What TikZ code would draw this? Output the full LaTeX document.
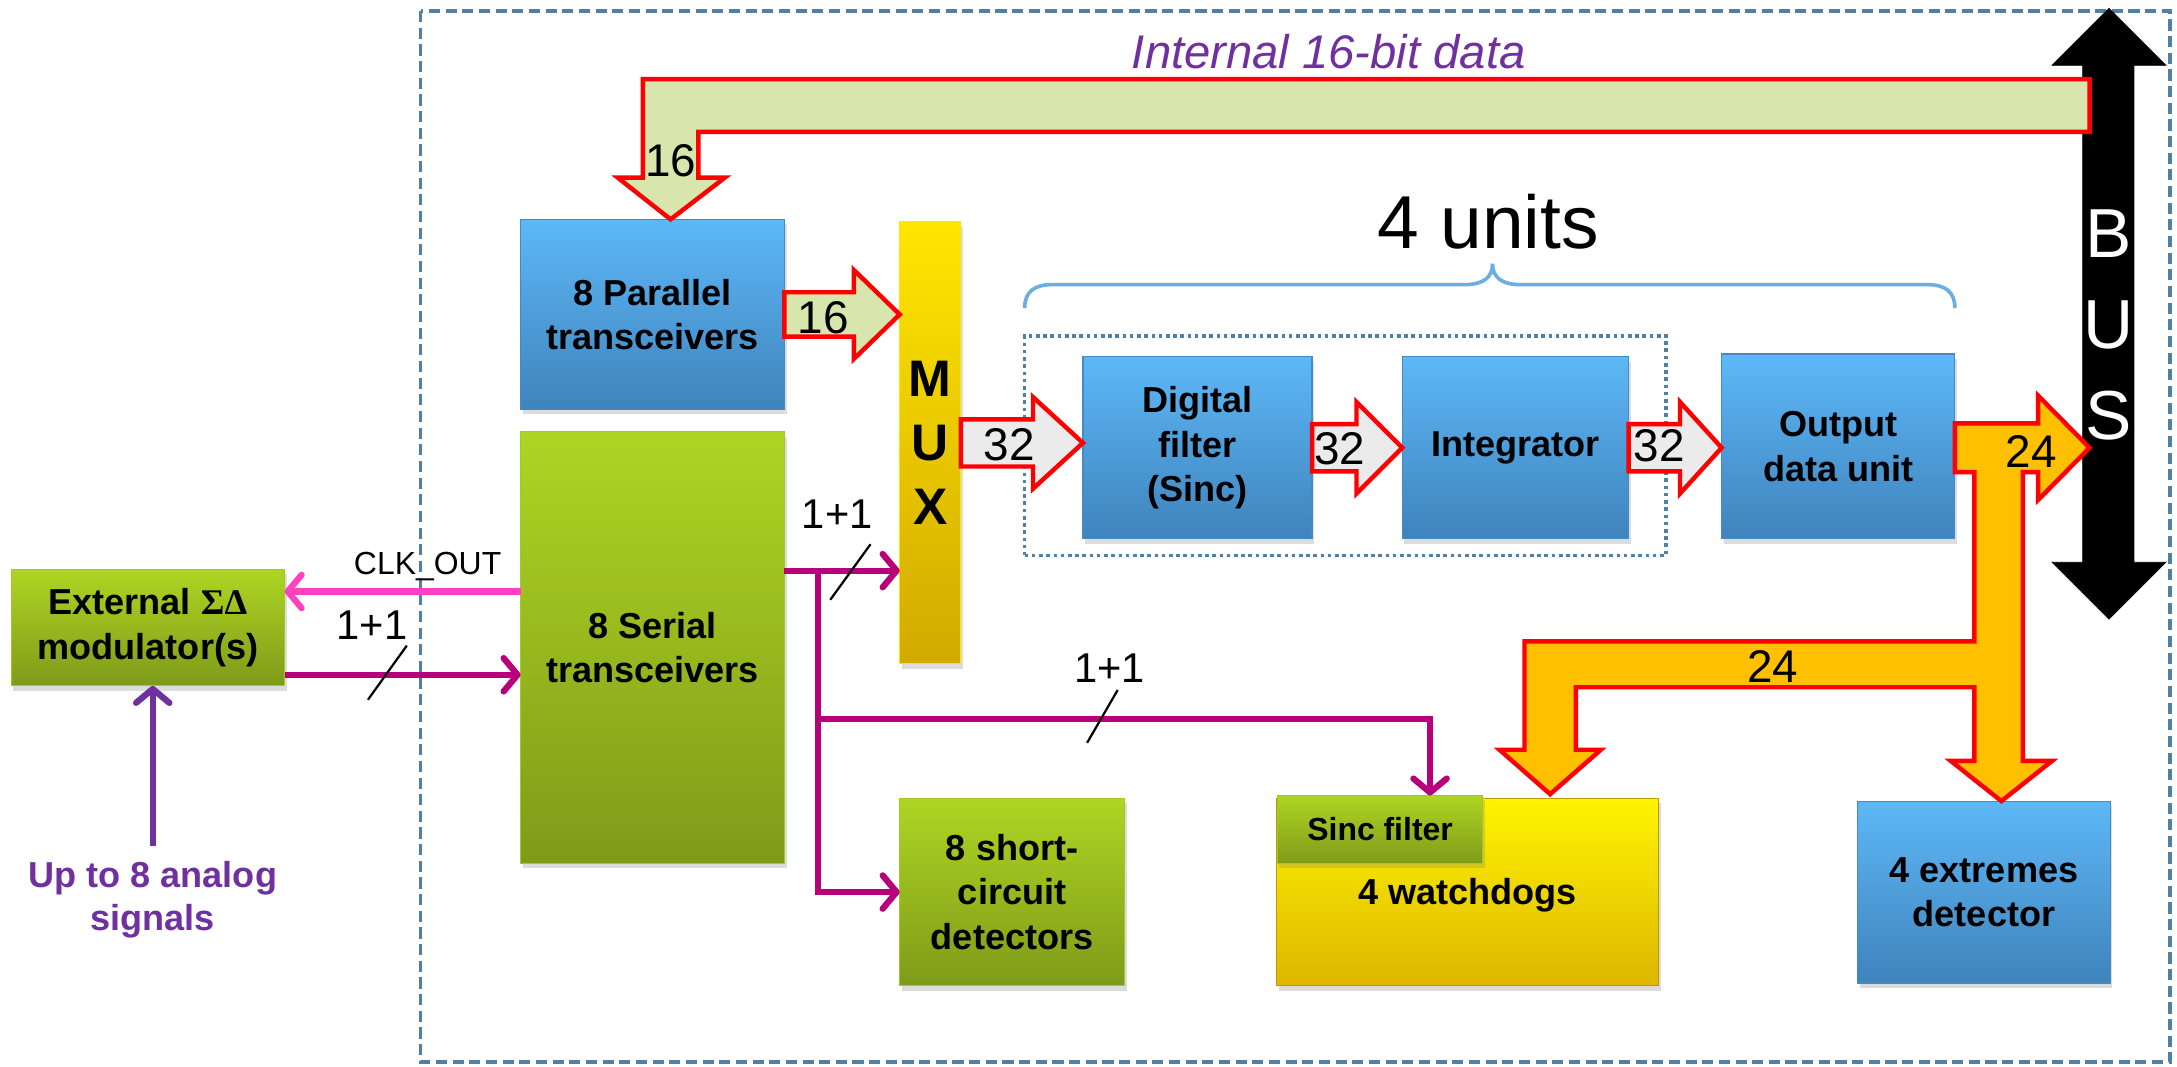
\documentclass[tikz,border=0pt]{standalone}
\usepackage{fontspec}
\setmainfont{Liberation Sans}
\newfontfamily\greekserif{Liberation Serif}
\usetikzlibrary{arrows.meta,shadows,calc}

\definecolor{framecol}{HTML}{4F81A8}
\definecolor{blueT}{HTML}{5DB8F7}
\definecolor{blueB}{HTML}{3F83BC}
\definecolor{greenT}{HTML}{AED523}
\definecolor{greenB}{HTML}{7E9B19}
\definecolor{yellowT}{HTML}{FFF400}
\definecolor{yellowB}{HTML}{DDB600}
\definecolor{muxT}{HTML}{FFE600}
\definecolor{muxB}{HTML}{D2AA00}
\definecolor{sigcol}{HTML}{B8007A}
\definecolor{clkcol}{HTML}{FF40C0}
\definecolor{analogcol}{HTML}{7030A0}
\definecolor{busgreen}{HTML}{D8E6AE}
\definecolor{pipegray}{HTML}{EBEBEB}
\definecolor{pipeorange}{HTML}{FFC000}
\definecolor{bracecol}{HTML}{6AAEE2}

\tikzset{
  every node/.style={inner sep=0pt, outer sep=0pt, align=center},
  shadowed/.style={drop shadow={opacity=0.28, shadow xshift=1.5pt, shadow yshift=-3.5pt}},
  bluebox/.style={shadowed, top color=blueT, bottom color=blueB, draw=blueB!85!blueT, line width=0.8pt},
  greenbox/.style={shadowed, top color=greenT, bottom color=greenB, draw=greenT!80!greenB, line width=0.8pt},
  yellowbox/.style={shadowed, top color=yellowT, bottom color=yellowB, draw=yellowB!85!black, line width=0.8pt},
  muxbox/.style={shadowed, top color=muxT, bottom color=muxB, draw=muxT, line width=1pt},
  lbl/.style={font=\fontsize{26}{32}\selectfont\bfseries},
  num/.style={font=\fontsize{33}{33}\selectfont},
  bitlbl/.style={font=\fontsize{30}{30}\selectfont},
  fatedge/.style={draw=red, line width=3.2pt, line join=miter},
  sig/.style={draw=sigcol, line width=4.5pt, line join=miter},
  barb/.style={-{Straight Barb[length=10pt,width=24pt,round]}},
  slashmark/.style={draw=black, line width=1.6pt},
  framebox/.style={draw=framecol, line width=2.6pt, dash pattern=on 8pt off 4pt},
  unitbox/.style={draw=framecol, line width=2.6pt, dash pattern=on 2.6pt off 2.6pt},
}

% fat block arrow pointing right, from #1 to the x of #2
\newcommand\blockarrow[6]{%
  \draw[fatedge, fill=#6] let \p1=#1, \p2=#2 in
    (\x1,\y1+#3pt) -- (\x2-#5pt,\y1+#3pt) -- (\x2-#5pt,\y1+#4pt) -- (\x2,\y1)
    -- (\x2-#5pt,\y1-#4pt) -- (\x2-#5pt,\y1-#3pt) -- (\x1,\y1-#3pt) -- cycle;}

\begin{document}
\begin{tikzpicture}[x=1pt,y=-1pt]
\useasboundingbox (0,0) rectangle (1568,768);

% chip boundary
\draw[framebox] (303,8) rectangle (1563,765);

% blocks
\node[greenbox, lbl, minimum width=197pt, minimum height=84pt] (ext) at (106.5,452)
  {External {\greekserif ΣΔ}\\modulator(s)};
\node[bluebox, lbl, minimum width=190pt, minimum height=137pt] (par) at (470,226.5)
  {8 Parallel\\transceivers};
\node[greenbox, lbl, minimum width=190pt, minimum height=311pt] (ser) at (470,466.5)
  {8 Serial\\transceivers};
\node[muxbox, font=\fontsize{37}{46}\selectfont\bfseries, minimum width=44pt, minimum height=318pt] (mux) at (670,319)
  {M\\U\\X};
\node[unitbox, minimum width=462pt, minimum height=158pt] (units) at (969,321) {};
\node[bluebox, lbl, minimum width=165pt, minimum height=131pt] (df) at (862.5,322.5)
  {Digital\\filter\\(Sinc)};
\node[bluebox, lbl, minimum width=163pt, minimum height=131pt] (int) at (1091.5,322.5)
  {Integrator};
\node[bluebox, lbl, minimum width=168pt, minimum height=133pt] (odu) at (1324,321.5)
  {Output\\data unit};
\node[greenbox, lbl, minimum width=162pt, minimum height=135pt] (sc) at (729,642.5)
  {8 short-\\circuit\\detectors};
\node[yellowbox, minimum width=275pt, minimum height=135pt] (wd) at (1057,642.5) {};
\node[lbl] (wdtext) at (1057,645) {4 watchdogs};
\node[greenbox, font=\fontsize{23}{23}\selectfont\bfseries, minimum width=148pt, minimum height=49pt] (sinc) at (994,597.5)
  {Sinc filter};
\node[bluebox, lbl, minimum width=182pt, minimum height=131pt] (ed) at (1429,642.5)
  {4 extremes\\detector};

% bracket over the four processing units
\draw[bracecol, line width=2.6pt]
  (738,222) .. controls (738,210) and (745,205) .. (758,205) -- (1055,205)
  .. controls (1068,205) and (1075,200) .. (1075,190)
  .. controls (1075,200) and (1082,205) .. (1095,205) -- (1388,205)
  .. controls (1401,205) and (1408,210) .. (1408,222);
\node[font=\fontsize{54}{54}\selectfont] (unitslbl) at (1072,160) {4 units};

% system bus
\draw[fill=black, draw=black, line width=0.5pt]
  (1519,6) -- (1560,47) -- (1537,47) -- (1537,405) -- (1560,405) -- (1519,446)
  -- (1478,405) -- (1500,405) -- (1500,47) -- (1478,47) -- cycle;
\node[font=\fontsize{50}{50}\selectfont, text=white] (busB) at (1519,168) {B};
\node[font=\fontsize{50}{50}\selectfont, text=white] (busU) at (1519,234) {U};
\node[font=\fontsize{50}{50}\selectfont, text=white] (busS) at (1519,299) {S};

% internal 16-bit path from the bus to the parallel transceivers
\draw[fatedge, fill=busgreen]
  (1505,57) -- (463,57) -- (463,128) -- (445,128) -- (483,158) -- (522,128)
  -- (503,128) -- (503,95) -- (1505,95) -- cycle;
\node[font=\fontsize{34}{34}\selectfont\itshape, text=analogcol] (intlbl) at (957,37)
  {Internal 16-bit data};
\node[num] (n16a) at (483,116) {16};

% data path arrows
\blockarrow{(par.east)}{(mux.west)}{16}{32}{33}{busgreen}
\node[num] (n16b) at (593,229) {16};
\blockarrow{(mux.east)}{(df.west)}{17}{33}{36}{pipegray}
\node[num] (n32a) at (727,320) {32};
\blockarrow{(df.east)}{(int.west)}{17}{33}{33}{pipegray}
\node[num] (n32b) at (965,323) {32};
\blockarrow{(int.east)}{(odu.west)}{17}{33}{30}{pipegray}
\node[num] (n32c) at (1195,321) {32};

% 24-bit results to the bus, the watchdogs and the extremes detector
\draw[fatedge, fill=pipeorange]
  (1408,305) -- (1468,305) -- (1468,285) -- (1505,322.5) -- (1468,360) -- (1468,340)
  -- (1457,340) -- (1457,548) -- (1478,548) -- (1441.5,577) -- (1405,548) -- (1422,548)
  -- (1422,495) -- (1135,495) -- (1135,540) -- (1153,540) -- (1116.5,572) -- (1080,540)
  -- (1098,540) -- (1098,462) -- (1422,462) -- (1422,340) -- (1408,340) -- cycle;
\node[num] (n24a) at (1463,325) {24};
\node[num] (n24b) at (1277,480) {24};

% modulator interface
\coordinate (clkY) at (0,426);
\coordinate (sinY) at (0,486);
\draw[draw=clkcol, line width=4.5pt, barb] (ser.west |- clkY) -- (ext.east |- clkY);
\node[font=\fontsize{23}{23}\selectfont] (clklbl) at (308,408) {CLK\_OUT};
\draw[sig, barb] (ext.east |- sinY) -- (ser.west |- sinY);
\draw[slashmark] (265,504) -- (293,465);
\node[bitlbl] (b1) at (268,450) {1+1};

% analog inputs
\coordinate (asrc) at (110,609);
\draw[draw=analogcol, line width=4.5pt, barb] (asrc) -- (asrc |- ext.south);
\node[font=\fontsize{26}{31}\selectfont\bfseries, text=analogcol] (alabel) at (110,648)
  {Up to 8 analog\\signals};

% bit streams from the serial transceivers
\coordinate (outY) at (0,411);
\coordinate (jx) at (589,0);
\coordinate (wdbr) at (1030,518);
\draw[sig, barb] (ser.east |- outY) -- (mux.west |- outY);
\draw[sig, barb] (jx |- outY) -- (jx |- sc.west) -- (sc.west);
\draw[sig, barb] (jx |- wdbr) -- (wdbr) -- (wdbr |- sinc.north);
\draw[slashmark] (598,432) -- (627,392);
\node[bitlbl] (b2) at (603,370) {1+1};
\draw[slashmark] (783,535) -- (805,497);
\node[bitlbl] (b3) at (799,481) {1+1};
\end{tikzpicture}
\end{document}
